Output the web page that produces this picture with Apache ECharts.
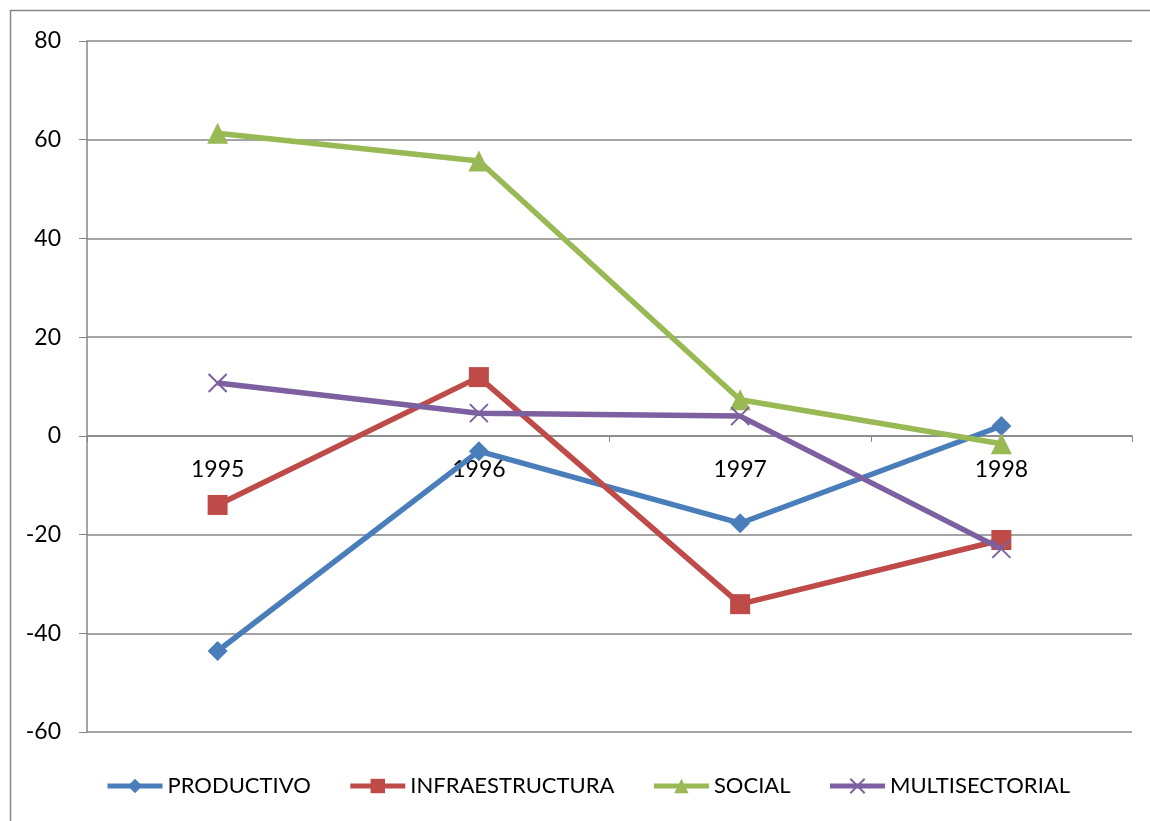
<!DOCTYPE html>
<html>
<head>
<meta charset="utf-8">
<script src="https://cdn.jsdelivr.net/npm/echarts@6/dist/echarts.min.js"></script>
<style>
html,body{margin:0;padding:0;background:#fff;}
#c{width:1150px;height:821px;}
</style>
</head>
<body>
<div id="c"></div>
<script>
const categories = ['1995', '1996', '1997', '1998'];
const productivo = [-43.6, -3.1, -17.7, 2.0];
const infraestructura = [-14.0, 11.9, -34.1, -21.1];
const social = [61.3, 55.7, 7.3, -1.6];
const multisectorial = [10.7, 4.6, 4.0, -22.9];
const seriesNames = ['PRODUCTIVO', 'INFRAESTRUCTURA', 'SOCIAL', 'MULTISECTORIAL'];
const yTicks = { min: -60, max: 80, interval: 20 };

const FONT = 'Lato, "Open Sans", sans-serif';
const axisGray = '#868686';
const colors = ['#4A7EBB', '#BE4B48', '#98B954', '#7D60A0'];
const symbols = ['diamond', 'rect', 'triangle', 'path://M0,0L10,10M10,0L0,10'];
const symbolSizes = [20, 20, 21, 18];
const seriesData = [productivo, infraestructura, social, multisectorial];

const gridTop = 41, gridBottom = 89, chartH = 821;
const plotH = chartH - gridTop - gridBottom;
const zeroY = gridTop + plotH * (yTicks.max / (yTicks.max - yTicks.min));
const xOffset = -((chartH - gridBottom) - zeroY);

const chart = echarts.init(document.getElementById('c'), null, { renderer: 'canvas' });
chart.setOption({
  animation: false,
  backgroundColor: '#ffffff',
  graphic: [{
    type: 'rect',
    shape: { x: 10.5, y: 10.5, width: 1300, height: 1000 },
    style: { fill: 'none', stroke: axisGray, lineWidth: 1.5 },
    silent: true
  }],
  grid: { left: 87, right: 18, top: gridTop, bottom: gridBottom, containLabel: false },
  legend: {
    left: 105,
    top: 775,
    padding: 0,
    itemWidth: 55,
    itemHeight: 18,
    itemGap: 37,
    lineStyle: { width: 5 },
    textStyle: { fontFamily: FONT, fontSize: 22, color: '#000' },
    data: seriesNames
  },
  xAxis: {
    type: 'category',
    data: categories,
    boundaryGap: true,
    offset: xOffset,
    axisLine: { onZero: false, lineStyle: { color: axisGray, width: 1.5 } },
    axisTick: { show: true, alignWithLabel: false, length: 6, inside: false, lineStyle: { color: axisGray } },
    axisLabel: { fontFamily: FONT, fontSize: 23, color: '#000', margin: 22 },
    splitLine: { show: false }
  },
  yAxis: {
    type: 'value',
    min: yTicks.min,
    max: yTicks.max,
    interval: yTicks.interval,
    axisLine: { show: true, lineStyle: { color: axisGray, width: 1.5 } },
    axisTick: { show: true, length: 8, lineStyle: { color: axisGray } },
    axisLabel: { fontFamily: FONT, fontSize: 23, color: '#000', margin: 26 },
    splitLine: { show: true, lineStyle: { color: axisGray, width: 1.5 } }
  },
  series: seriesNames.map((name, i) => ({
    name: name,
    type: 'line',
    data: seriesData[i],
    symbol: symbols[i],
    symbolSize: symbolSizes[i],
    showAllSymbol: true,
    lineStyle: { color: colors[i], width: 5.5 },
    itemStyle: i === 3
      ? { color: colors[i], borderColor: colors[i], borderWidth: 2 }
      : { color: colors[i], borderWidth: 0 },
    emphasis: { disabled: true },
    z: 2 + i
  }))
});
</script>
</body>
</html>
